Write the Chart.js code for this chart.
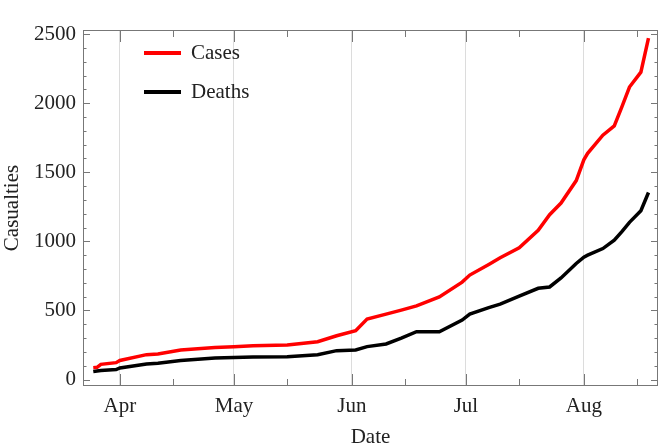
<!DOCTYPE html>
<html>
<head>
<meta charset="utf-8">
<script src="https://cdn.jsdelivr.net/npm/chart.js@4.4.1/dist/chart.umd.min.js"></script>
<style>
html, body { margin: 0; padding: 0; background: #fff; }
#wrap { width: 660px; height: 448px; }
</style>
</head>
<body>
<div id="wrap"><canvas id="chart"></canvas></div>
<script>
// days counted from 1 April 2014 (negative = March)
const days   = [-7, -6, -5, -1, 0, 7, 10, 16, 25, 30, 35, 44, 52, 57, 62, 65, 70, 74, 78, 84, 90, 92, 97, 100, 105, 110, 113, 116, 120, 122, 123, 127, 130, 132, 134, 137, 139];
const cases  = [86, 88, 110, 122, 138, 180, 185, 214, 232, 238, 245, 250, 274, 317, 353, 437, 473, 502, 533, 598, 705, 756, 833, 881, 953, 1080, 1193, 1277, 1440, 1590, 1637, 1769, 1836, 1973, 2117, 2225, 2472];
const deaths = [58, 62, 65, 72, 84, 113, 118, 137, 156, 160, 163, 165, 180, 209, 214, 238, 257, 300, 346, 346, 430, 473, 520, 545, 603, 660, 670, 735, 840, 886, 900, 948, 1008, 1070, 1138, 1222, 1354];

const monthDays   = [0, 30, 61, 91, 122];
const monthLabels = ["Apr", "May", "Jun", "Jul", "Aug"];
const midDays     = [14, 44, 75, 105, 136];
const yTicks      = [0, 500, 1000, 1500, 2000, 2500];

const serif = "'Liberation Serif', 'DejaVu Serif', serif";
Chart.defaults.font.family = serif;
Chart.defaults.font.size = 21;
Chart.defaults.color = "#222";

function toPoints(vals) {
    return days.map((d, i) => ({ x: d, y: vals[i] }));
}

// frame with inward ticks, Mathematica style
const frameTicks = {
    id: "frameTicks",
    beforeDatasetsDraw(chart) {
        const { ctx, chartArea: a, scales } = chart;
        const xs = scales.x, ys = scales.y;
        ctx.save();
        ctx.strokeStyle = "#777";
        ctx.lineWidth = 1;
        ctx.beginPath();
        monthDays.forEach(d => {
            const px = Math.round(xs.getPixelForValue(d)) + 0.5;
            ctx.moveTo(px, a.top); ctx.lineTo(px, a.top + 12);
            ctx.moveTo(px, a.bottom); ctx.lineTo(px, a.bottom - 12);
        });
        midDays.forEach(d => {
            const px = Math.round(xs.getPixelForValue(d)) + 0.5;
            ctx.moveTo(px, a.top); ctx.lineTo(px, a.top + 7);
            ctx.moveTo(px, a.bottom); ctx.lineTo(px, a.bottom - 7);
        });
        for (let v = 0; v <= 2500; v += 100) {
            const py = Math.round(ys.getPixelForValue(v)) + 0.5;
            const len = v % 500 === 0 ? 7 : 3.5;
            ctx.moveTo(a.left, py); ctx.lineTo(a.left + len, py);
            ctx.moveTo(a.right, py); ctx.lineTo(a.right - len, py);
        }
        ctx.stroke();
        ctx.strokeRect(a.left + 0.5, a.top + 0.5, a.right - a.left - 1, a.bottom - a.top - 1);
        ctx.restore();
    },
    afterDraw(chart) {
        const { ctx, chartArea: a } = chart;
        ctx.save();
        ctx.font = "21px " + serif;
        ctx.textBaseline = "middle";
        chart.data.datasets.forEach((ds, i) => {
            const y = a.top + 23 + i * 39;
            ctx.strokeStyle = ds.borderColor;
            ctx.lineWidth = 4;
            ctx.beginPath();
            ctx.moveTo(a.left + 61, y);
            ctx.lineTo(a.left + 98, y);
            ctx.stroke();
            ctx.fillStyle = "#222";
            ctx.fillText(ds.label, a.left + 108, y);
        });
        ctx.restore();
    }
};

new Chart(document.getElementById("chart"), {
    type: "line",
    data: {
        datasets: [
            { label: "Cases", data: toPoints(cases), borderColor: "#ff0000", borderWidth: 3.5, pointRadius: 0, tension: 0 },
            { label: "Deaths", data: toPoints(deaths), borderColor: "#000000", borderWidth: 3.5, pointRadius: 0, tension: 0 }
        ]
    },
    options: {
        responsive: true,
        maintainAspectRatio: false,
        animation: false,
        layout: { padding: { top: 30, right: 2, left: 0, bottom: 0 } },
        plugins: { legend: { display: false }, tooltip: { enabled: false } },
        scales: {
            x: {
                type: "linear",
                min: -9.7,
                max: 141.5,
                afterBuildTicks: s => { s.ticks = monthDays.map(v => ({ value: v })); },
                afterFit: s => { s.height = 62; },
                ticks: {
                    padding: 8,
                    callback: v => monthLabels[monthDays.indexOf(v)]
                },
                grid: { color: "#dcdcdc", lineWidth: 1, drawTicks: false },
                border: { display: false },
                title: { display: true, text: "Date", font: { size: 21 }, padding: { top: 0, bottom: -2 } }
            },
            y: {
                min: -47,
                max: 2530,
                afterBuildTicks: s => { s.ticks = yTicks.map(v => ({ value: v })); },
                afterFit: s => { s.width = 83; },
                ticks: { padding: 7, callback: v => String(v) },
                grid: { display: false, drawTicks: false },
                border: { display: false },
                title: { display: true, text: "Casualties", font: { size: 21 }, padding: { top: 0, bottom: 0 } }
            }
        }
    },
    plugins: [frameTicks]
});
</script>
</body>
</html>
